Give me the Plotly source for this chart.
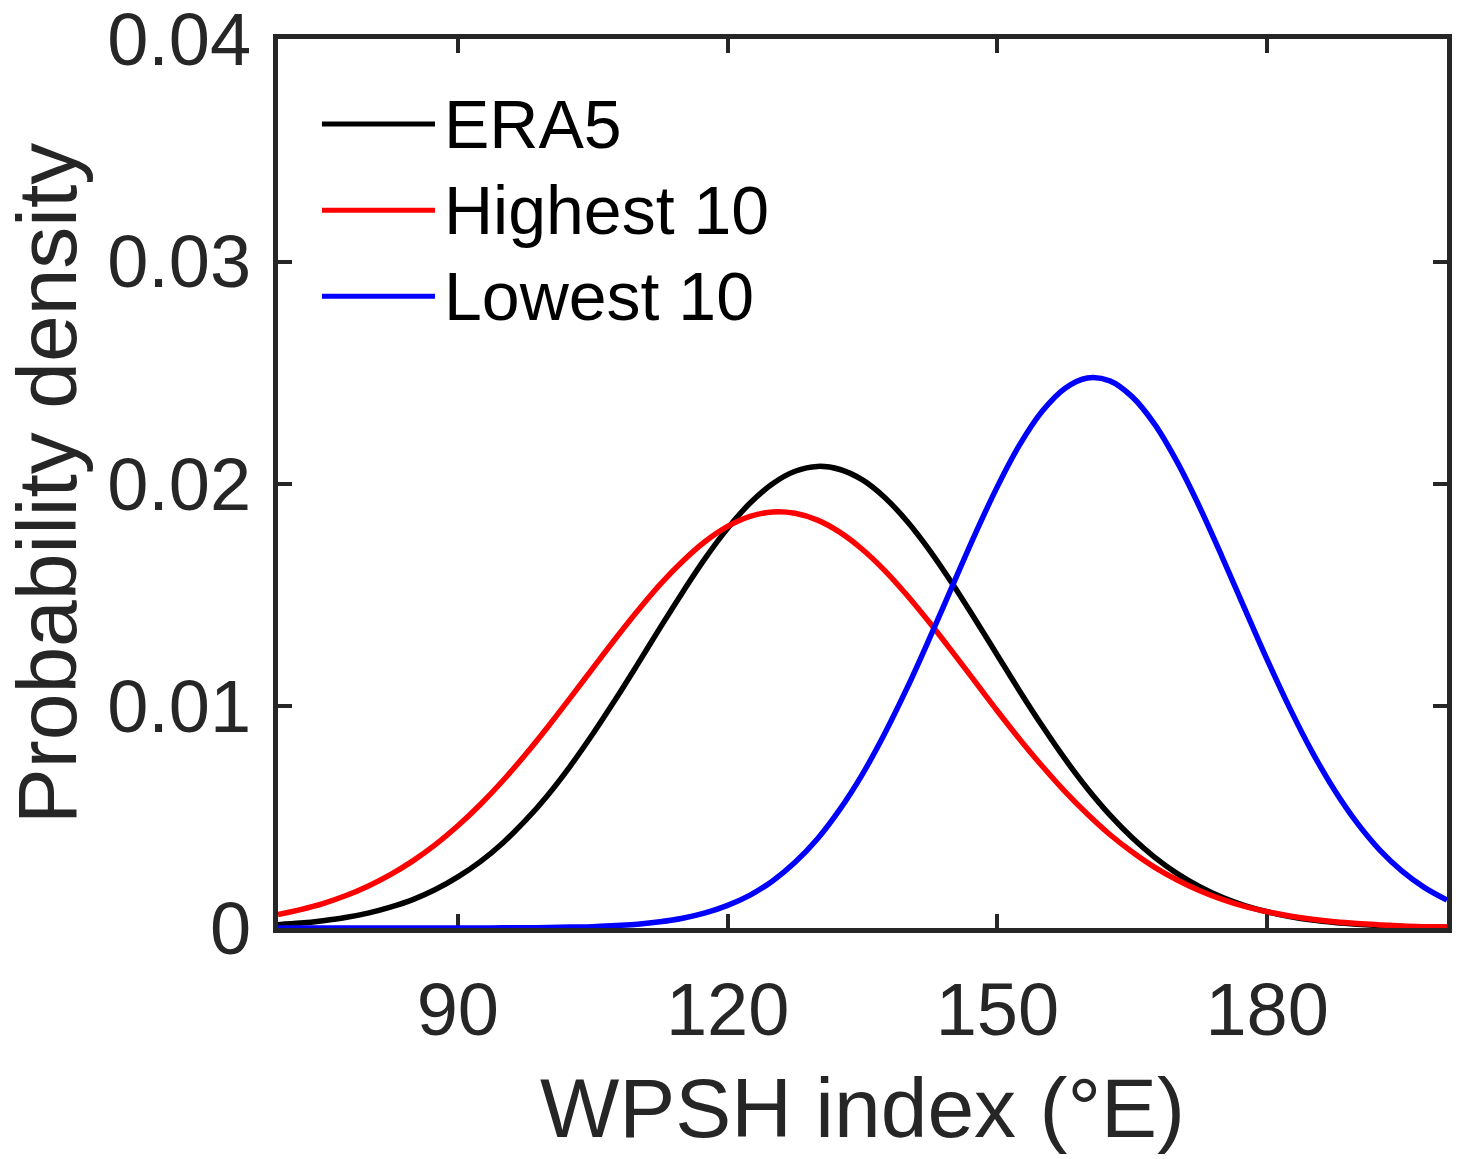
import plotly.graph_objects as go

# ---- data ----
x_vals = [70, 72.5, 75, 77.5, 80, 82.5, 85, 87.5, 90, 92.5, 95, 97.5, 100, 102.5,
          105, 107.5, 110, 112.5, 115, 117.5, 120, 122.5, 125, 127.5, 130, 132.5,
          135, 137.5, 140, 142.5, 145, 147.5, 150, 152.5, 155, 157.5, 160, 162.5,
          165, 167.5, 170, 172.5, 175, 177.5, 180, 182.5, 185, 187.5, 190, 192.5,
          195, 197.5, 200]

era5 = [0.00015, 0.00022, 0.00033, 0.00047, 0.00067, 0.00094, 0.00128, 0.00173,
        0.00230, 0.00299, 0.00383, 0.00483, 0.00598, 0.00729, 0.00873, 0.01027,
        0.01188, 0.01352, 0.01512, 0.01664, 0.01799, 0.01913, 0.02000, 0.02056,
        0.02078, 0.02064, 0.02017, 0.01937, 0.01829, 0.01698, 0.01550, 0.01391,
        0.01228, 0.01065, 0.00909, 0.00762, 0.00628, 0.00509, 0.00406, 0.00318,
        0.00245, 0.00186, 0.00138, 0.00101, 0.00073, 0.00052, 0.00036, 0.00025,
        0.00017, 0.00011, 0.00007, 0.00005, 0.00003]

highest10 = [0.00061, 0.00083, 0.00110, 0.00145, 0.00188, 0.00240, 0.00302, 0.00375,
             0.00460, 0.00556, 0.00663, 0.00780, 0.00905, 0.01036, 0.01169, 0.01301,
             0.01428, 0.01547, 0.01651, 0.01740, 0.01808, 0.01853, 0.01873, 0.01867,
             0.01836, 0.01781, 0.01704, 0.01608, 0.01496, 0.01373, 0.01243, 0.01110,
             0.00977, 0.00849, 0.00728, 0.00615, 0.00513, 0.00421, 0.00342, 0.00273,
             0.00216, 0.00168, 0.00129, 0.00097, 0.00073, 0.00054, 0.00039, 0.00028,
             0.00020, 0.00014, 0.00009, 0.00006, 0.00004]

lowest10 = [0.0, 0.0, 0.0, 0.0, 0.0, 0.0, 0.0, 0.000001,
            0.000002, 0.000003, 0.000006, 0.00001, 0.00002, 0.00004, 0.00006, 0.00011,
            0.00017, 0.00028, 0.00044, 0.00068, 0.00102, 0.00148, 0.00212, 0.00296,
            0.00402, 0.00535, 0.00693, 0.00878, 0.01084, 0.01308, 0.01540, 0.01771,
            0.01987, 0.02177, 0.02327, 0.02429, 0.02476, 0.02463, 0.02391, 0.02267,
            0.02097, 0.01894, 0.01670, 0.01438, 0.01208, 0.00991, 0.00793, 0.00620,
            0.00473, 0.00352, 0.00256, 0.00182, 0.00126]

series_names = ["ERA5", "Highest 10", "Lowest 10"]
series_colors = ["#000000", "#ff0000", "#0000ff"]
series_values = [era5, highest10, lowest10]

x_tickvals = [90, 120, 150, 180]
x_ticktext = ["90", "120", "150", "180"]
y_tickvals = [0, 0.01, 0.02, 0.03, 0.04]
y_ticktext = ["0", "0.01", "0.02", "0.03", "0.04"]

x_title = "WPSH index (°E)"
y_title = "Probability density"

# ---- figure ----
AX = "#262626"
FONT = "Liberation Sans, Arial, sans-serif"

fig = go.Figure()
for name, col, vals in zip(series_names, series_colors, series_values):
    fig.add_trace(go.Scatter(x=x_vals, y=vals, mode="lines", name=name,
                             line=dict(color=col, width=5.5, shape="spline", smoothing=1.0),
                             showlegend=False))

# custom legend (long line samples as in the reference)
leg_y = [0.9043, 0.8074, 0.7106]
for name, col, yy in zip(series_names, series_colors, leg_y):
    fig.add_shape(type="line", xref="paper", yref="paper",
                  x0=0.0376, x1=0.1343, y0=yy, y1=yy,
                  line=dict(color=col, width=5))
    fig.add_annotation(xref="paper", yref="paper", x=0.1405, y=yy,
                       text=name, showarrow=False, xanchor="left", yanchor="middle",
                       font=dict(family=FONT, size=68, color="#000000"))

axis_common = dict(showline=True, linewidth=5, linecolor=AX, mirror="ticks",
                   ticks="inside", ticklen=14, tickwidth=4, tickcolor=AX,
                   showgrid=False, zeroline=False, layer="below traces",
                   ticklabeloverflow="allow",
                   tickfont=dict(family=FONT, size=74, color=AX))

fig.update_xaxes(range=[70, 200], tickvals=x_tickvals, ticktext=x_ticktext,
                 title=dict(text=x_title, font=dict(family=FONT, size=84, color=AX), standoff=30),
                 ticklabelstandoff=13, **axis_common)
fig.update_yaxes(range=[0, 0.04002], tickvals=y_tickvals, ticktext=y_ticktext,
                 title=dict(text=y_title, font=dict(family=FONT, size=84, color=AX), standoff=28),
                 ticklabelstandoff=7, **axis_common)

fig.update_layout(width=1458, height=1159,
                  margin=dict(l=278, r=11, t=39, b=231, autoexpand=False),
                  paper_bgcolor="white", plot_bgcolor="white",
                  font=dict(family=FONT, color=AX))

fig.write_html("out.html", config={"displayModeBar": False},
               post_script="document.body.style.margin='0';document.body.style.padding='0';")
